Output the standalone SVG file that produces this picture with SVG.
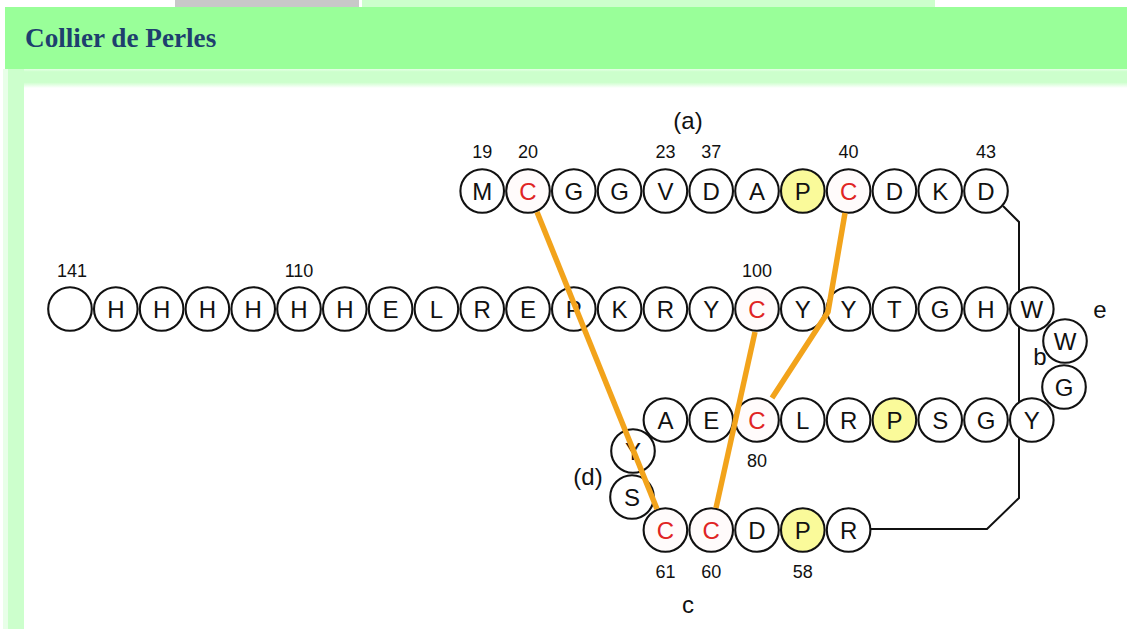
<svg xmlns="http://www.w3.org/2000/svg" width="1127" height="629" viewBox="0 0 1127 629">
<defs>
<style>
.bead{fill:#fff;stroke:#111;stroke-width:2.1}
.cys{fill:#fffbfb;stroke:#111;stroke-width:2.1}
.pro{fill:#fafa9a;stroke:#111;stroke-width:2.1}
circle{r:21.8px}
.aa{font-family:"Liberation Sans",Arial,sans-serif;font-size:24px;fill:#111;text-anchor:middle}
.red{fill:#e02424}
.num{font-family:"Liberation Sans",Arial,sans-serif;font-size:18px;fill:#111;text-anchor:middle}
.lbl{font-family:"Liberation Sans",Arial,sans-serif;font-size:24px;fill:#111;text-anchor:middle}
.ss{fill:none;stroke:#f2a31b;stroke-width:5.5;stroke-linejoin:round}
.bb{fill:none;stroke:#111;stroke-width:2}
</style>
<linearGradient id="band" x1="0" y1="0" x2="0" y2="1">
<stop offset="0" stop-color="#e6ffe6"/>
<stop offset="0.15" stop-color="#ccffcc"/>
<stop offset="0.7" stop-color="#ccffcc"/>
<stop offset="1" stop-color="#ffffff"/>
</linearGradient>
</defs>
<g id="page">
<rect x="0" y="0" width="1127" height="629" fill="#fff"/>
<rect x="175" y="0" width="184" height="7" fill="#c8c8c8"/>
<rect x="362" y="0" width="573" height="7" fill="#ccffcc"/>
<rect x="5" y="7" width="1122" height="62" fill="#99ff99"/>
<rect x="5" y="69" width="1122" height="19" fill="url(#band)"/>
<rect x="3" y="69" width="5" height="560" fill="#e8ffe8"/>
<rect x="8" y="69" width="16" height="560" fill="#ccffcc"/>
<rect x="24" y="88" width="1103" height="541" fill="#fff"/>
<text x="25" y="47" font-family="'Liberation Serif','Times New Roman',serif" font-weight="bold" font-size="27.2" fill="#1e3f6e">Collier de Perles</text>
</g>
<g id="backbone">
<path class="bb" d="M1003 206 L1019 222 L1019 498 L987 529 L869 529"/>
</g>
<g id="top-row">
<g id="t19"><circle class="bead" cx="482.2" cy="191" r="21.8"/><text class="aa" x="482.2" y="199.5">M</text></g>
<g id="t20"><circle class="cys" cx="528" cy="191" r="21.8"/><text class="aa red" x="528" y="199.5">C</text></g>
<g id="t21"><circle class="bead" cx="573.8" cy="191" r="21.8"/><text class="aa" x="573.8" y="199.5">G</text></g>
<g id="t22"><circle class="bead" cx="619.6" cy="191" r="21.8"/><text class="aa" x="619.6" y="199.5">G</text></g>
<g id="t23"><circle class="bead" cx="665.4" cy="191" r="21.8"/><text class="aa" x="665.4" y="199.5">V</text></g>
<g id="t37"><circle class="bead" cx="711.2" cy="191" r="21.8"/><text class="aa" x="711.2" y="199.5">D</text></g>
<g id="t38"><circle class="bead" cx="757" cy="191" r="21.8"/><text class="aa" x="757" y="199.5">A</text></g>
<g id="t39"><circle class="pro" cx="802.8" cy="191" r="21.8"/><text class="aa" x="802.8" y="199.5">P</text></g>
<g id="t40"><circle class="cys" cx="848.6" cy="191" r="21.8"/><text class="aa red" x="848.6" y="199.5">C</text></g>
<g id="t41"><circle class="bead" cx="894.4" cy="191" r="21.8"/><text class="aa" x="894.4" y="199.5">D</text></g>
<g id="t42"><circle class="bead" cx="940.2" cy="191" r="21.8"/><text class="aa" x="940.2" y="199.5">K</text></g>
<g id="t43"><circle class="bead" cx="986" cy="191" r="21.8"/><text class="aa" x="986" y="199.5">D</text></g>
</g>
<g id="middle-row">
<g id="m141"><circle class="bead" cx="70" cy="309" r="21.8"/></g>
<g id="m140"><circle class="bead" cx="115.8" cy="309" r="21.8"/><text class="aa" x="115.8" y="317.5">H</text></g>
<g id="m139"><circle class="bead" cx="161.6" cy="309" r="21.8"/><text class="aa" x="161.6" y="317.5">H</text></g>
<g id="m138"><circle class="bead" cx="207.4" cy="309" r="21.8"/><text class="aa" x="207.4" y="317.5">H</text></g>
<g id="m137"><circle class="bead" cx="253.2" cy="309" r="21.8"/><text class="aa" x="253.2" y="317.5">H</text></g>
<g id="m110"><circle class="bead" cx="299" cy="309" r="21.8"/><text class="aa" x="299" y="317.5">H</text></g>
<g id="m109"><circle class="bead" cx="344.8" cy="309" r="21.8"/><text class="aa" x="344.8" y="317.5">H</text></g>
<g id="m108"><circle class="bead" cx="390.6" cy="309" r="21.8"/><text class="aa" x="390.6" y="317.5">E</text></g>
<g id="m107"><circle class="bead" cx="436.4" cy="309" r="21.8"/><text class="aa" x="436.4" y="317.5">L</text></g>
<g id="m106"><circle class="bead" cx="482.2" cy="309" r="21.8"/><text class="aa" x="482.2" y="317.5">R</text></g>
<g id="m105"><circle class="bead" cx="528" cy="309" r="21.8"/><text class="aa" x="528" y="317.5">E</text></g>
<g id="m104"><circle class="bead" cx="573.8" cy="309" r="21.8"/><text class="aa" x="573.8" y="317.5">P</text></g>
<g id="m103"><circle class="bead" cx="619.6" cy="309" r="21.8"/><text class="aa" x="619.6" y="317.5">K</text></g>
<g id="m102"><circle class="bead" cx="665.4" cy="309" r="21.8"/><text class="aa" x="665.4" y="317.5">R</text></g>
<g id="m101"><circle class="bead" cx="711.2" cy="309" r="21.8"/><text class="aa" x="711.2" y="317.5">Y</text></g>
<g id="m100"><circle class="cys" cx="757" cy="309" r="21.8"/><text class="aa red" x="757" y="317.5">C</text></g>
<g id="m99"><circle class="bead" cx="802.8" cy="309" r="21.8"/><text class="aa" x="802.8" y="317.5">Y</text></g>
<g id="m98"><circle class="bead" cx="848.6" cy="309" r="21.8"/><text class="aa" x="848.6" y="317.5">Y</text></g>
<g id="m97"><circle class="bead" cx="894.4" cy="309" r="21.8"/><text class="aa" x="894.4" y="317.5">T</text></g>
<g id="m96"><circle class="bead" cx="940.2" cy="309" r="21.8"/><text class="aa" x="940.2" y="317.5">G</text></g>
<g id="m95"><circle class="bead" cx="986" cy="309" r="21.8"/><text class="aa" x="986" y="317.5">H</text></g>
<g id="m94"><circle class="bead" cx="1031.8" cy="309" r="21.8"/><text class="aa" x="1031.8" y="317.5">W</text></g>
</g>
<g id="turn-e">
<g id="e1"><circle class="bead" cx="1065" cy="341" r="21.8"/><text class="aa" x="1065" y="349.5">W</text></g>
<g id="e2"><circle class="bead" cx="1064" cy="387" r="21.8"/><text class="aa" x="1064" y="395.5">G</text></g>
</g>
<g id="third-row">
<g id="r78"><circle class="bead" cx="665.4" cy="420" r="21.8"/><text class="aa" x="665.4" y="428.5">A</text></g>
<g id="r79"><circle class="bead" cx="711.2" cy="420" r="21.8"/><text class="aa" x="711.2" y="428.5">E</text></g>
<g id="r80"><circle class="cys" cx="757" cy="420" r="21.8"/><text class="aa red" x="757" y="428.5">C</text></g>
<g id="r81"><circle class="bead" cx="802.8" cy="420" r="21.8"/><text class="aa" x="802.8" y="428.5">L</text></g>
<g id="r82"><circle class="bead" cx="848.6" cy="420" r="21.8"/><text class="aa" x="848.6" y="428.5">R</text></g>
<g id="r83"><circle class="pro" cx="894.4" cy="420" r="21.8"/><text class="aa" x="894.4" y="428.5">P</text></g>
<g id="r84"><circle class="bead" cx="940.2" cy="420" r="21.8"/><text class="aa" x="940.2" y="428.5">S</text></g>
<g id="r85"><circle class="bead" cx="986" cy="420" r="21.8"/><text class="aa" x="986" y="428.5">G</text></g>
<g id="r86"><circle class="bead" cx="1031.8" cy="420" r="21.8"/><text class="aa" x="1031.8" y="428.5">Y</text></g>
</g>
<g id="turn-d">
<g id="d1"><circle class="bead" cx="633" cy="451" r="21.8"/><text class="aa" x="633" y="459.5">Y</text></g>
<g id="d2"><circle class="bead" cx="632" cy="497" r="21.8"/><text class="aa" x="632" y="505.5">S</text></g>
</g>
<g id="bottom-row">
<g id="b61"><circle class="cys" cx="665.4" cy="530" r="21.8"/><text class="aa red" x="665.4" y="538.5">C</text></g>
<g id="b60"><circle class="cys" cx="711.2" cy="530" r="21.8"/><text class="aa red" x="711.2" y="538.5">C</text></g>
<g id="b59"><circle class="bead" cx="757" cy="530" r="21.8"/><text class="aa" x="757" y="538.5">D</text></g>
<g id="b58"><circle class="pro" cx="802.8" cy="530" r="21.8"/><text class="aa" x="802.8" y="538.5">P</text></g>
<g id="b57"><circle class="bead" cx="848.6" cy="530" r="21.8"/><text class="aa" x="848.6" y="538.5">R</text></g>
</g>
<g id="connectors">
<path class="ss" d="M537 212 L657 509"/>
<path class="ss" d="M755 332 L716 508"/>
<path class="ss" d="M845 213 L828 312 L772 398"/>
</g>
<g id="labels">
<text class="lbl" x="688" y="129">(a)</text>
<text class="num" x="482.2" y="158">19</text>
<text class="num" x="528" y="158">20</text>
<text class="num" x="665.4" y="158">23</text>
<text class="num" x="711.2" y="158">37</text>
<text class="num" x="848.6" y="158">40</text>
<text class="num" x="986" y="158">43</text>
<text class="num" x="72" y="277">141</text>
<text class="num" x="299" y="277">110</text>
<text class="num" x="757" y="277">100</text>
<text class="lbl" x="1100" y="318">e</text>
<text class="lbl" x="1040" y="365">b</text>
<text class="num" x="757" y="467">80</text>
<text class="lbl" x="588" y="485">(d)</text>
<text class="num" x="665.4" y="578">61</text>
<text class="num" x="711.2" y="578">60</text>
<text class="num" x="802.8" y="578">58</text>
<text class="lbl" x="688" y="613">c</text>
</g>
</svg>
